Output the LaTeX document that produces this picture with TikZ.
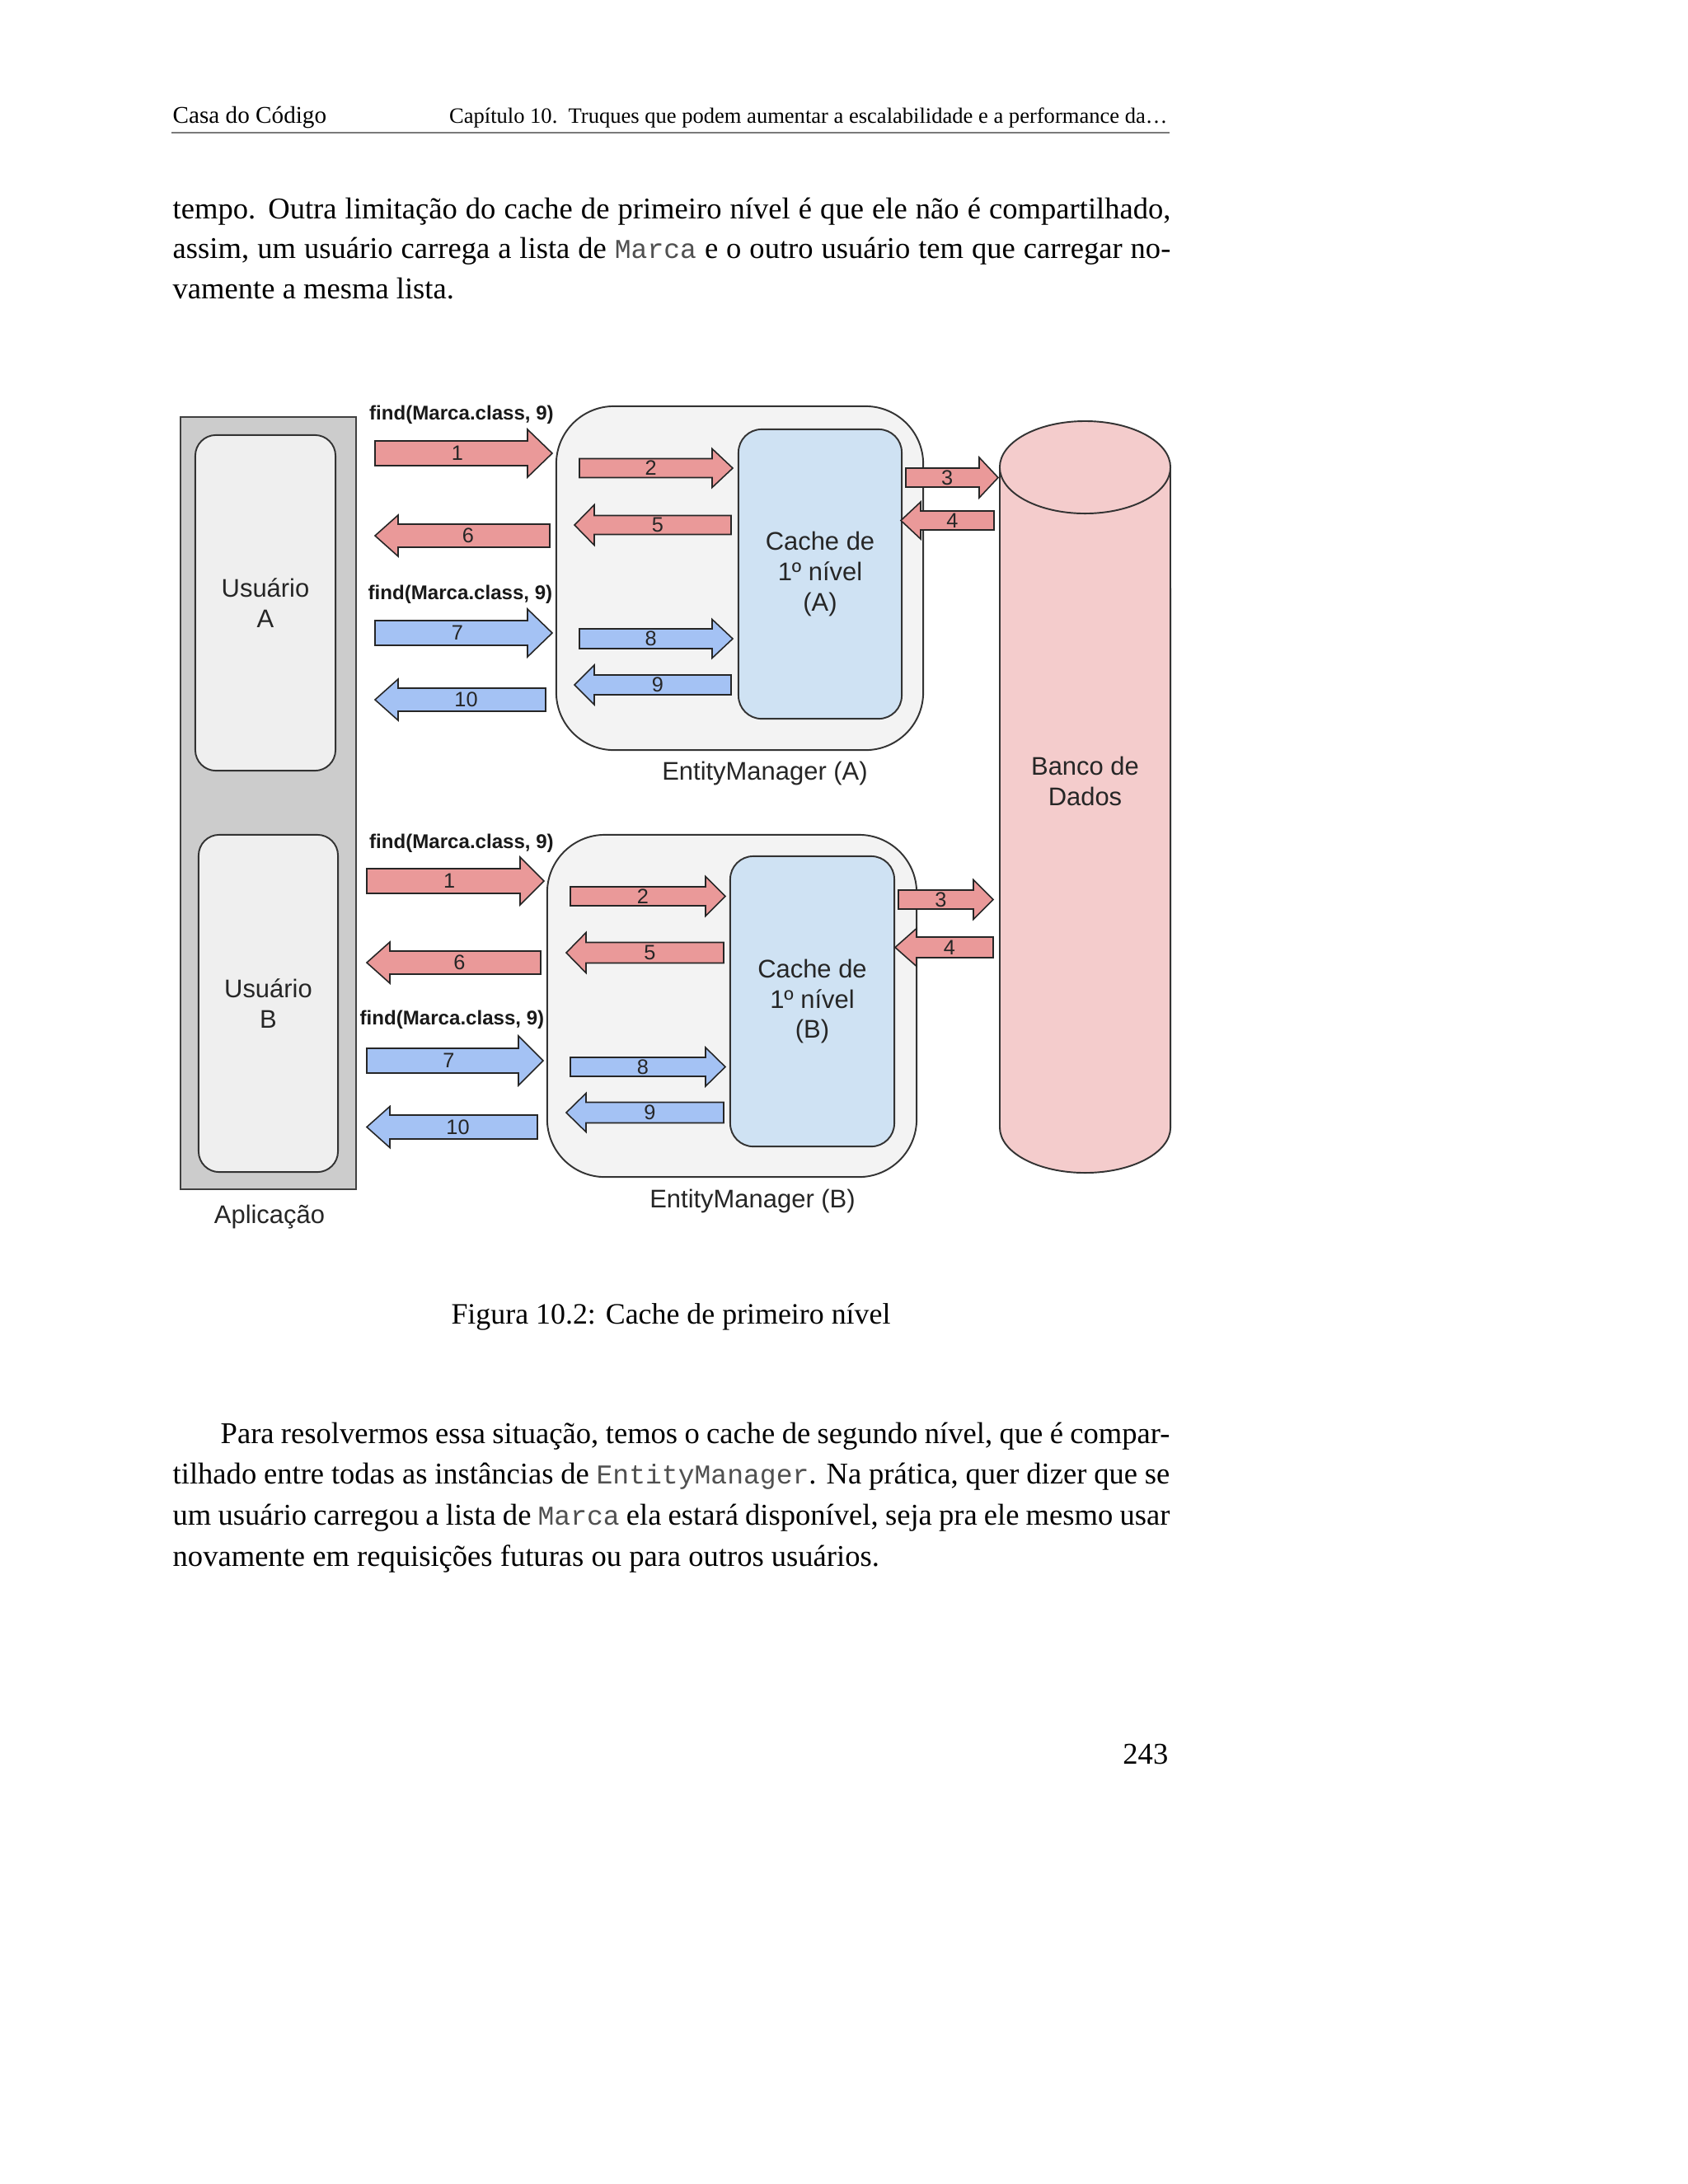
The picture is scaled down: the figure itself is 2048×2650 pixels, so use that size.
\documentclass[tikz,border=0pt]{standalone}
\usepackage{fontspec}
\setmainfont{Liberation Serif}
\setmonofont{Liberation Mono}
\newfontfamily\diagfont{Liberation Sans}
\definecolor{redarr}{HTML}{EA9999}
\definecolor{bluearr}{HTML}{A4C2F4}
\definecolor{appgrey}{HTML}{CCCCCC}
\definecolor{userfill}{HTML}{EFEFEF}
\definecolor{emfill}{HTML}{F3F3F3}
\definecolor{cachefill}{HTML}{CFE2F3}
\definecolor{dbfill}{HTML}{F4CCCC}
\definecolor{monogrey}{HTML}{505050}
\definecolor{rulegrey}{HTML}{7A7A7A}
\newcommand\monotxt[1]{{\ttfamily\fontsize{9.4pt}{12pt}\selectfont\color{monogrey}#1}}
% name, tail x, head-base x, tip x, centre y, half body, half head, colour, label
\newcommand\blockarrow[9]{%
  \draw[arr, fill=#8] (#2,#5-#6) -- (#3,#5-#6) -- (#3,#5-#7) -- (#4,#5) -- (#3,#5+#7) -- (#3,#5+#6) -- (#2,#5+#6) -- cycle;
  \node[numlbl] (#1) at ({(2*#2+#3+#4)/4},#5) {#9};}
\tikzset{
  box/.style={draw=black!80, line width=0.55pt},
  arr/.style={draw=black!85, line width=0.45pt, line join=miter},
  numlbl/.style={font=\diagfont\fontsize{7.2pt}{8pt}\selectfont, inner sep=0pt, text=black!85},
  lbl/.style={font=\diagfont\fontsize{8.8pt}{10.5pt}\selectfont, align=center, inner sep=0pt, text=black!85},
  findlbl/.style={font=\diagfont\bfseries\fontsize{6.85pt}{8pt}\selectfont, inner sep=0pt, text=black!90},
  bodytext/.style={anchor=base west, inner sep=0pt, font=\fontsize{10.4pt}{12pt}\selectfont},
}
\begin{document}
\begin{tikzpicture}[x=0.01cm, y=-0.01cm]
\useasboundingbox (0,0) rectangle (2048,2650);
\fill[white] (0,0) rectangle (2048,2650);

% ---------- header ----------
\node[anchor=base west, inner sep=0pt, font=\fontsize{8.3pt}{10pt}\selectfont] (headl) at (209,149) {Casa do Código};
\node[anchor=base east, inner sep=0pt, font=\fontsize{7.55pt}{9pt}\selectfont] (headr) at (1417,149) {Capítulo 10.\ \ Truques que podem aumentar a escalabilidade e a performance da…};
\coordinate (rulel) at (208,161);
\coordinate (ruler) at (1419,161);
\draw[rulegrey, line width=0.6pt] (rulel) -- (ruler);

% ---------- paragraph 1 ----------
\node[bodytext] (p1a) at (209,265) {\makebox[121mm][s]{tempo. Outra limitação do cache de primeiro nível é que ele não é compartilhado,}};
\node[bodytext] (p1b) at (209,313) {\makebox[121mm][s]{assim, um usuário carrega a lista de \monotxt{Marca} e o outro usuário tem que carregar no-}};
\node[bodytext] (p1c) at (209,362) {vamente a mesma lista.};

% ---------- diagram boxes ----------
\node[box, draw=black!75, fill=appgrey, minimum width=2.13cm, minimum height=9.37cm, inner sep=0pt] (app) at (325.5,974.5) {};
\node[lbl] (applbl) at (327,1477) {Aplicação};

\node[box, fill=userfill, rounded corners=0.25cm, minimum width=1.70cm, minimum height=4.07cm, inner sep=0pt, lbl] (usera) at (322,731.5) {Usuário\\A};
\node[box, fill=userfill, rounded corners=0.25cm, minimum width=1.69cm, minimum height=4.09cm, inner sep=0pt, lbl] (userb) at (325.5,1217.5) {Usuário\\B};

\node[box, fill=emfill, rounded corners=0.7cm, minimum width=4.45cm, minimum height=4.17cm, inner sep=0pt] (ema) at (897.5,701.5) {};
\node[box, fill=emfill, rounded corners=0.7cm, minimum width=4.48cm, minimum height=4.15cm, inner sep=0pt] (emb) at (888,1220.5) {};
\node[lbl] (emalbl) at (928,938) {EntityManager (A)};
\node[lbl] (emblbl) at (913,1457) {EntityManager (B)};

\node[box, fill=cachefill, rounded corners=0.28cm, minimum width=1.98cm, minimum height=3.51cm, inner sep=0pt, lbl] (cachea) at (995,696.5) {Cache de\\1º nível\\(A)};
\node[box, fill=cachefill, rounded corners=0.28cm, minimum width=1.99cm, minimum height=3.52cm, inner sep=0pt, lbl] (cacheb) at (985.5,1215) {Cache de\\1º nível\\(B)};

% ---------- database cylinder ----------
\path[fill=dbfill] (1213,567) -- (1213,1368) arc[start angle=180, end angle=360, x radius=1.035cm, y radius=0.55cm] -- (1420,567) -- cycle;
\draw[box] (1213,567) -- (1213,1368) arc[start angle=180, end angle=360, x radius=1.035cm, y radius=0.55cm] -- (1420,567);
\draw[box, fill=dbfill] (1316.5,567) ellipse [x radius=1.035cm, y radius=0.56cm];
\node[lbl] (db) at (1316.5,947.5) {Banco de\\Dados};

% ---------- arrows (A) ----------
\node[findlbl] (finda1) at (560,503) {find(Marca.class, 9)};
\node[findlbl] (finda2) at (558.5,721) {find(Marca.class, 9)};
\blockarrow{a1}{455}{640}{670}{550}{15}{29}{redarr}{1}
\blockarrow{a6}{667}{483}{455}{650}{14}{25}{redarr}{6}
\blockarrow{a7}{455}{640}{670}{768}{15}{29}{bluearr}{7}
\blockarrow{a10}{662}{483}{455}{849}{14}{25}{bluearr}{10}
\blockarrow{a2}{703}{864}{889}{568}{11.5}{23.5}{redarr}{2}
\blockarrow{a5}{887}{721}{697}{637}{11.5}{24.5}{redarr}{5}
\blockarrow{a8}{703}{864}{889}{775}{12}{23.5}{bluearr}{8}
\blockarrow{a9}{887}{721}{697}{831}{12}{24}{bluearr}{9}
\blockarrow{a3}{1099}{1188}{1211}{579.5}{11.5}{24.5}{redarr}{3}
\blockarrow{a4}{1206}{1117}{1093}{631.5}{11.5}{22.5}{redarr}{4}

% ---------- arrows (B) ----------
\node[findlbl] (findb1) at (560,1023) {find(Marca.class, 9)};
\node[findlbl] (findb2) at (548.5,1237) {find(Marca.class, 9)};
\blockarrow{b1}{445}{631}{660}{1069}{15}{29}{redarr}{1}
\blockarrow{b6}{656}{473}{445}{1168}{14}{25}{redarr}{6}
\blockarrow{b7}{445}{629}{659}{1287}{15}{30}{bluearr}{7}
\blockarrow{b10}{652}{473}{445}{1367.5}{14.5}{25}{bluearr}{10}
\blockarrow{b2}{692}{856}{880}{1087.5}{11.5}{24}{redarr}{2}
\blockarrow{b5}{878}{711}{687}{1156}{12.5}{24.5}{redarr}{5}
\blockarrow{b8}{692}{856}{880}{1294.5}{11.5}{23.5}{bluearr}{8}
\blockarrow{b9}{878}{711}{687}{1350}{12.5}{23.5}{bluearr}{9}
\blockarrow{b3}{1090}{1181}{1205}{1091.5}{11.5}{24}{redarr}{3}
\blockarrow{b4}{1205}{1112}{1086}{1149.5}{12.5}{23}{redarr}{4}

% ---------- caption ----------
\node[anchor=base, inner sep=0pt, font=\fontsize{10.2pt}{12pt}\selectfont] (caption) at (814,1606) {Figura 10.2: Cache de primeiro nível};

% ---------- paragraph 2 ----------
\node[bodytext] (p2a) at (267,1751) {\makebox[115.1mm][s]{Para resolvermos essa situação, temos o cache de segundo nível, que é compar-}};
\node[bodytext] (p2b) at (209,1800) {\makebox[120.9mm][s]{tilhado entre todas as instâncias de \monotxt{EntityManager}. Na prática, quer dizer que se}};
\node[bodytext] (p2c) at (209,1850) {\makebox[120.9mm][s]{um usuário carregou a lista de \monotxt{Marca} ela estará disponível, seja pra ele mesmo usar}};
\node[bodytext] (p2d) at (209,1900) {novamente em requisições futuras ou para outros usuários.};

% ---------- page number ----------
\node[anchor=base east, inner sep=0pt, font=\fontsize{10.4pt}{12pt}\selectfont] (pagenum) at (1418,2140) {243};
\end{tikzpicture}
\end{document}
